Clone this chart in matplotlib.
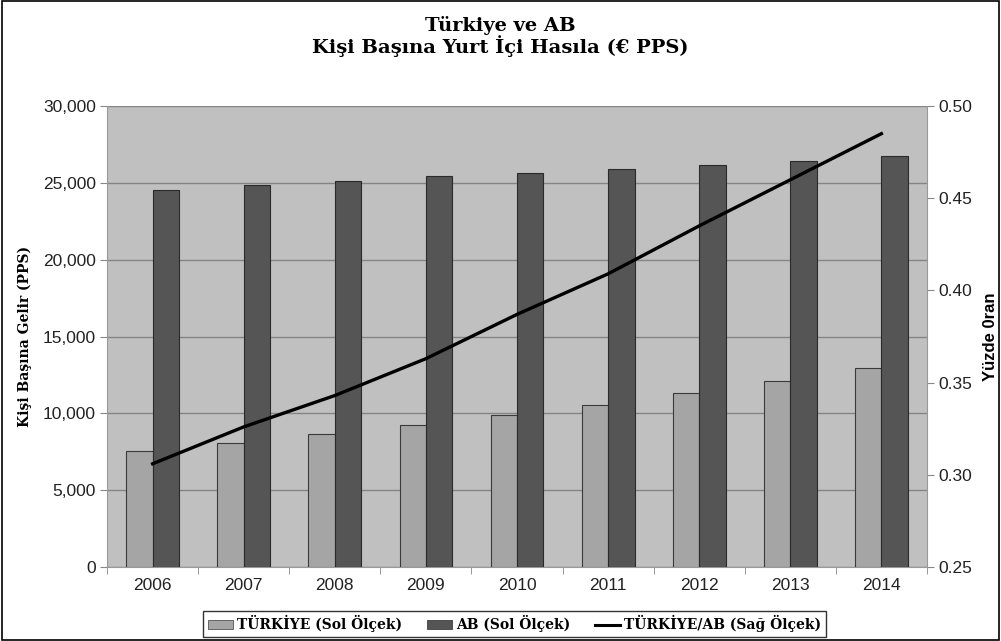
import matplotlib
matplotlib.use("Agg")
import matplotlib.pyplot as plt
import numpy as np
from matplotlib.patches import Rectangle, Patch
from matplotlib.lines import Line2D
from matplotlib.ticker import FuncFormatter, MultipleLocator

# veriler
years = ["2006", "2007", "2008", "2009", "2010", "2011", "2012", "2013", "2014"]
turkiye = [7550, 8070, 8650, 9240, 9890, 10560, 11340, 12120, 12970]
ab = [24530, 24850, 25110, 25440, 25610, 25890, 26160, 26440, 26720]
oran = [0.306, 0.326, 0.343, 0.363, 0.387, 0.409, 0.435, 0.460, 0.485]

serif = "DejaVu Serif"
sans = "Liberation Sans"

fig = plt.figure(figsize=(10.01, 6.41), dpi=100)
ax = fig.add_axes([0.107, 0.1154, 0.819, 0.7192])
ax.set_facecolor("#c0c0c0")

x = np.arange(len(years))
w = 0.29
ax.bar(x - w / 2, turkiye, w, color="#a5a5a5", edgecolor="#3a3a3a", linewidth=0.8, zorder=3)
ax.bar(x + w / 2, ab, w, color="#555555", edgecolor="#2a2a2a", linewidth=0.8, zorder=3)

ax.set_xlim(-0.5, len(years) - 0.5)
ax.set_ylim(0, 30000)
ax.yaxis.set_major_locator(MultipleLocator(5000))
ax.yaxis.set_major_formatter(FuncFormatter(lambda v, p: f"{int(v):,}"))
ax.grid(axis="y", color="#858585", linewidth=1, zorder=0)
ax.set_axisbelow(True)

ax.set_xticks(x)
ax.set_xticklabels(years)
ax.set_xticks(np.arange(-0.5, len(years)), minor=True)
ax.tick_params(axis="x", which="major", length=0, pad=8)
ax.tick_params(axis="x", which="minor", length=5, color="#888888")
ax.tick_params(axis="y", length=5, color="#888888", pad=3)
for lab in ax.get_xticklabels() + ax.get_yticklabels():
    lab.set_fontfamily(sans)
    lab.set_fontsize(12.5)
    lab.set_color("#222222")

for s in ["top", "right"]:
    ax.spines[s].set_visible(False)
ax.spines["left"].set_color("#999999")
ax.spines["bottom"].set_color("#999999")

ax.set_ylabel("Kişi Başına Gelir (PPS)", fontfamily=serif, fontweight="bold", fontsize=10, labelpad=8)

ax2 = ax.twinx()
ax2.plot(x, oran, color="black", linewidth=2.4, zorder=5)
ax2.set_ylim(0.25, 0.50)
ax2.yaxis.set_major_locator(MultipleLocator(0.05))
ax2.yaxis.set_major_formatter(FuncFormatter(lambda v, p: f"{v:.2f}"))
ax2.tick_params(axis="y", length=5, color="#888888", pad=3)
for lab in ax2.get_yticklabels():
    lab.set_fontfamily(sans)
    lab.set_fontsize(12.5)
    lab.set_color("#222222")
for s in ["top", "left", "bottom"]:
    ax2.spines[s].set_visible(False)
ax2.spines["right"].set_color("#999999")
ax2.set_ylabel("Yüzde 0ran", fontfamily=sans, fontweight="bold", fontsize=12, labelpad=8)

fig.text(0.5, 0.975, "Türkiye ve AB\nKişi Başına Yurt İçi Hasıla (€ PPS)", ha="center", va="top",
         fontfamily=serif, fontweight="bold", fontsize=14, linespacing=1.0)

handles = [
    Patch(facecolor="#a5a5a5", edgecolor="#3a3a3a", linewidth=0.5),
    Patch(facecolor="#555555", edgecolor="#2a2a2a", linewidth=0.5),
    Line2D([0], [0], color="black", linewidth=2.2),
]
labels = ["TÜRKİYE (Sol Ölçek)", "AB (Sol Ölçek)", "TÜRKİYE/AB (Sağ Ölçek)"]
leg = fig.legend(handles, labels, loc="lower center", bbox_to_anchor=(0.514, -0.004), ncol=3,
                 prop={"family": serif, "weight": "bold", "size": 10}, frameon=True, fancybox=False,
                 handlelength=1.8, handletextpad=0.3, columnspacing=1.8, borderpad=0.3)
leg.get_frame().set_edgecolor("black")
leg.get_frame().set_linewidth(1.0)

fig.patches.append(Rectangle((0.002, 0.002), 0.996, 0.996, transform=fig.transFigure,
                             fill=False, edgecolor="black", linewidth=1.2))

fig.savefig("out.png", dpi=100)
